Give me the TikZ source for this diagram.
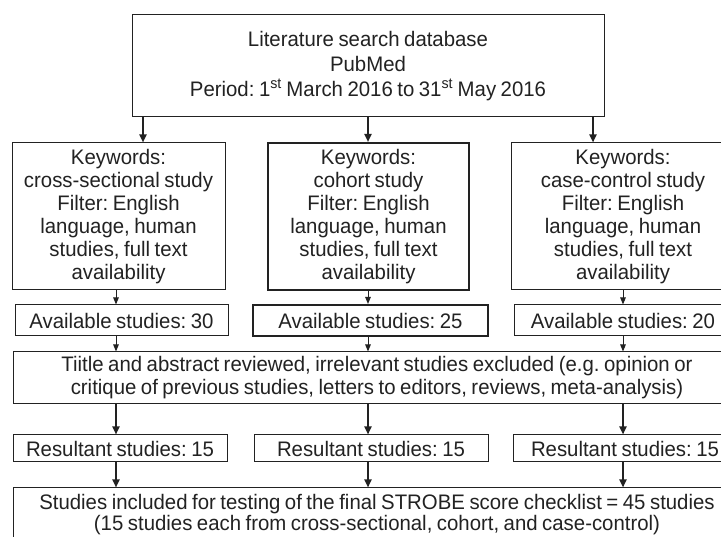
\documentclass[tikz,border=0pt]{standalone}
\usepackage{fontspec}
\setmainfont{Liberation Sans}[FakeStretch=0.97,WordSpace=0.8]
\frenchspacing
\usetikzlibrary{arrows.meta}
\definecolor{ink}{HTML}{222222}
\tikzset{
  box/.style={draw=ink, line width=1pt, inner sep=0pt, align=center, text=ink,
    font=\fontsize{21}{23}\selectfont\frenchspacing},
  boldbox/.style={box, line width=2pt},
  thickarr/.style={draw=ink, line width=2pt, -{Triangle[length=8pt,width=7pt]}},
  thinarr/.style={draw=ink, line width=1pt, -{Triangle[length=7pt,width=5.5pt]}},
}
\begin{document}
\begin{tikzpicture}[x=1pt,y=-1pt]
\useasboundingbox (0,0) rectangle (721,537);
\clip (0,0) rectangle (721,537);
\fill[white] (0,0) rectangle (721,537);

% column x positions for connectors
\coordinate (ta) at (143,0);
\coordinate (tb) at (368,0);
\coordinate (tc) at (593,0);
\coordinate (ca) at (116,0);
\coordinate (cb) at (368,0);
\coordinate (cc) at (623,0);

\node[box, minimum width=472pt, minimum height=102pt, font=\fontsize{21}{25}\selectfont\frenchspacing] (top) at (368,66)
  {Literature search database\\PubMed\\Period: 1\textsuperscript{st} March 2016 to 31\textsuperscript{st} May 2016};

\node[box, minimum width=213pt, minimum height=147pt] (kw1) at (118.5,216.5)
  {Keywords:\\cross-sectional study\\Filter: English\\language, human\\studies, full text\\availability};
\node[boldbox, minimum width=201pt, minimum height=147pt] (kw2) at (368.5,216.5)
  {Keywords:\\cohort study\\Filter: English\\language, human\\studies, full text\\availability};
\node[box, minimum width=224pt, minimum height=147pt] (kw3) at (623,216.5)
  {Keywords:\\case-control study\\Filter: English\\language, human\\studies, full text\\availability};

\node[box, minimum width=213pt, minimum height=31pt] (av1) at (121.5,320.5) {Available studies: 30};
\node[boldbox, minimum width=235pt, minimum height=31pt] (av2) at (370.5,320.5) {Available studies: 25};
\node[box, minimum width=218pt, minimum height=31pt] (av3) at (623,320.5) {Available studies: 20};

\node[box, minimum width=728pt, minimum height=52pt] (rev) at (377,378)
  {Tiitle and abstract reviewed, irrelevant studies excluded (e.g. opinion or\\critique of previous studies, letters to editors, reviews, meta-analysis)};

\node[box, minimum width=214pt, minimum height=27pt] (res1) at (120,448.5) {Resultant studies: 15};
\node[box, minimum width=234pt, minimum height=27pt] (res2) at (371,448.5) {Resultant studies: 15};
\node[box, minimum width=224pt, minimum height=27pt] (res3) at (625,448.5) {Resultant studies: 15};

\node[box, minimum width=728pt, minimum height=54pt, font=\fontsize{21}{21}\selectfont\frenchspacing] (fin) at (377,515)
  {Studies included for testing of the final STROBE score checklist = 45 studies\\(15 studies each from cross-sectional, cohort, and case-control)};

% connectors
\draw[thickarr] (top.south -| ta) -- (kw1.north -| ta);
\draw[thickarr] (top.south -| tb) -- (kw2.north -| tb);
\draw[thickarr] (top.south -| tc) -- (kw3.north -| tc);

\draw[thinarr] (kw1.south -| ca) -- (av1.north -| ca);
\draw[thinarr] (kw2.south -| cb) -- (av2.north -| cb);
\draw[thinarr] (kw3.south -| cc) -- (av3.north -| cc);

\draw[thinarr] (av1.south -| ca) -- (rev.north -| ca);
\draw[thinarr] (av2.south -| cb) -- (rev.north -| cb);
\draw[thinarr] (av3.south -| cc) -- (rev.north -| cc);

\draw[thickarr] (rev.south -| ca) -- (res1.north -| ca);
\draw[thickarr] (rev.south -| cb) -- (res2.north -| cb);
\draw[thickarr] (rev.south -| cc) -- (res3.north -| cc);

\draw[thickarr] (res1.south -| ca) -- (fin.north -| ca);
\draw[thickarr] (res2.south -| cb) -- (fin.north -| cb);
\draw[thickarr] (res3.south -| cc) -- (fin.north -| cc);
\end{tikzpicture}
\end{document}
